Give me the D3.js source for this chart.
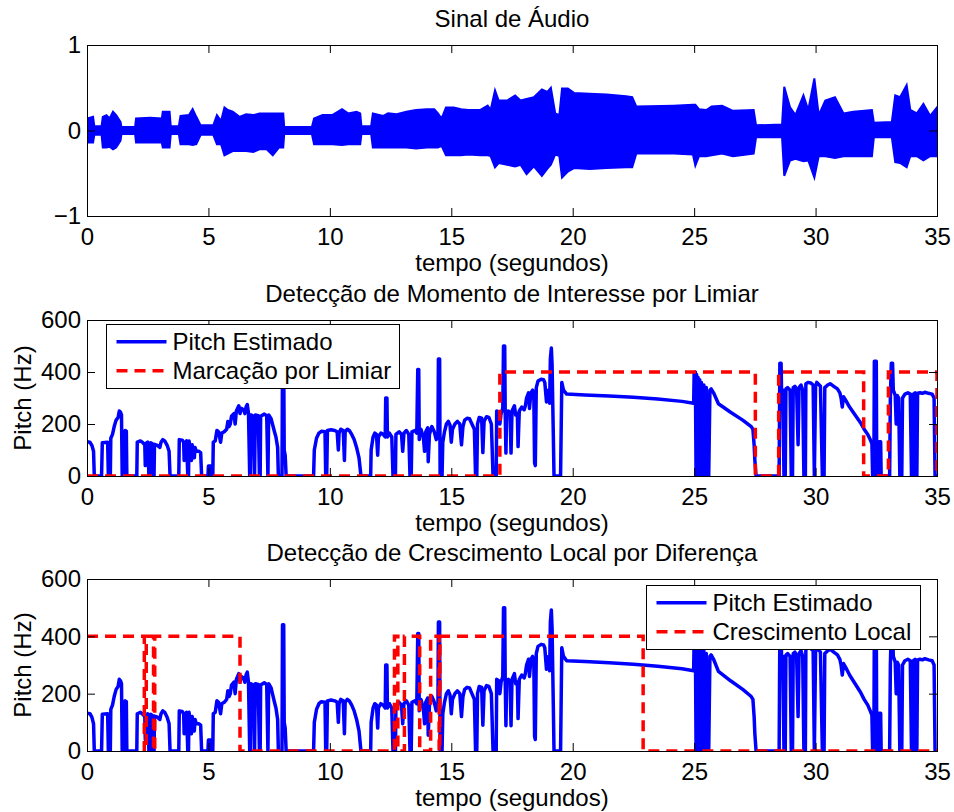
<!DOCTYPE html>
<html>
<head>
<meta charset="utf-8">
<script src="https://cdn.jsdelivr.net/npm/d3@7"></script>
<style>
  body { margin: 0; background: #fff; }
  svg { display: block; font-family: "Liberation Sans", Arial, Helvetica, sans-serif; }
  .tick text { font-size: 24px; fill: #000; }
  .tick line { stroke: #000; }
</style>
</head>
<body>
<div id="chart"></div>
<script>
// eixos e rótulos
const xTicks = [0, 5, 10, 15, 20, 25, 30, 35]
const audioTicks = [-1, 0, 1]
const pitchTicks = [0, 200, 400, 600]

// envelope do sinal de áudio (tempo, máximo, mínimo)
const audioT = [0, 0.25, 0.3, 0.6, 0.65, 0.8, 0.93, 1.07, 1.2, 1.38, 1.42, 1.98, 2.02, 2.6, 3.08, 3.12, 3.4, 3.45, 3.78, 3.85,
  4.2, 4.35, 4.5, 4.68, 5.2, 5.35, 5.52, 5.66, 5.8, 6.0, 6.28, 6.55, 6.85, 7.1, 7.4, 7.65, 7.9, 8.08, 8.12, 9.26,
  9.35, 9.7, 10.1, 10.5, 10.75, 11.1, 11.25, 11.3, 11.7, 11.77, 12.2, 12.4, 12.75, 13.15, 13.55, 14.0, 14.3, 14.45, 14.6, 14.78,
  15.1, 15.4, 15.7, 16.2, 16.5, 16.62, 16.8, 16.95, 17.3, 17.63, 17.85, 18.1, 18.4, 18.73, 18.95, 19.1, 19.28, 19.45, 19.56, 19.8,
  20.05, 20.7, 21.4, 22.2, 22.45, 22.62, 24.15, 24.95, 25.05, 25.2, 25.5, 25.72, 26.15, 26.6, 27.45, 27.55, 28.62, 28.71, 28.95, 29.17,
  29.5, 29.7, 29.95, 30.13, 30.4, 30.8, 31.15, 31.55, 32.32, 32.4, 33.14, 33.28, 33.48, 33.75, 33.9, 34.17, 34.44, 34.72, 35]
const audioHi = [0.14, 0.16, 0.05, 0.05, 0.16, 0.18, 0.14, 0.22, 0.18, 0.1, 0.04, 0.04, 0.14, 0.15, 0.14, 0.22, 0.22, 0.05, 0.05, 0.17,
  0.18, 0.25, 0.16, 0.06, 0.06, 0.18, 0.11, 0.27, 0.24, 0.22, 0.16, 0.19, 0.18, 0.2, 0.2, 0.2, 0.2, 0.2, 0.04, 0.04,
  0.14, 0.18, 0.18, 0.25, 0.2, 0.22, 0.2, 0.05, 0.05, 0.2, 0.17, 0.2, 0.19, 0.22, 0.24, 0.25, 0.25, 0.2, 0.14, 0.27,
  0.27, 0.25, 0.24, 0.24, 0.29, 0.24, 0.47, 0.35, 0.35, 0.41, 0.35, 0.37, 0.39, 0.48, 0.45, 0.5, 0.2, 0.18, 0.49, 0.49,
  0.44, 0.43, 0.42, 0.4, 0.39, 0.28, 0.29, 0.3, 0.3, 0.25, 0.24, 0.28, 0.29, 0.23, 0.24, 0.06, 0.07, 0.51, 0.27, 0.18,
  0.41, 0.24, 0.61, 0.18, 0.35, 0.39, 0.2, 0.22, 0.24, 0.09, 0.1, 0.41, 0.39, 0.53, 0.24, 0.2, 0.31, 0.17, 0.27]
const audioLo = [-0.14, -0.14, -0.05, -0.05, -0.2, -0.2, -0.19, -0.22, -0.2, -0.12, -0.04, -0.04, -0.14, -0.14, -0.14, -0.2, -0.2, -0.04, -0.04, -0.16,
  -0.16, -0.17, -0.16, -0.05, -0.05, -0.16, -0.16, -0.29, -0.27, -0.24, -0.24, -0.24, -0.25, -0.22, -0.22, -0.29, -0.2, -0.2, -0.04, -0.04,
  -0.16, -0.16, -0.16, -0.17, -0.16, -0.16, -0.16, -0.04, -0.04, -0.2, -0.2, -0.2, -0.2, -0.2, -0.21, -0.2, -0.2, -0.2, -0.18, -0.29,
  -0.29, -0.29, -0.28, -0.29, -0.29, -0.3, -0.43, -0.38, -0.4, -0.42, -0.4, -0.51, -0.42, -0.53, -0.45, -0.4, -0.28, -0.3, -0.55, -0.48,
  -0.44, -0.45, -0.44, -0.43, -0.43, -0.27, -0.27, -0.28, -0.41, -0.3, -0.3, -0.29, -0.27, -0.3, -0.27, -0.08, -0.08, -0.53, -0.35, -0.33,
  -0.36, -0.35, -0.55, -0.3, -0.3, -0.32, -0.3, -0.3, -0.3, -0.08, -0.08, -0.37, -0.38, -0.43, -0.3, -0.3, -0.35, -0.3, -0.3]

// pitch estimado (tempo em s, Hz)
const pitchT = [0, 0.12, 0.2, 0.27, 0.3, 0.6, 0.63, 0.85, 0.88, 0.96, 0.98, 1.05, 1.12, 1.2, 1.28, 1.33, 1.38, 1.42, 1.45, 1.55, 1.57, 1.62, 1.64,
  2.05, 2.07, 2.2, 2.3, 2.38, 2.4, 2.42, 2.5, 2.55, 2.6, 2.62, 2.68, 2.72, 2.76, 2.78, 2.9, 3.0, 3.05, 3.12, 3.2, 3.3, 3.38, 3.42,
  3.78, 3.8, 3.92, 3.98, 4.0, 4.05, 4.1, 4.15, 4.18, 4.2, 4.25, 4.3, 4.33, 4.38, 4.42, 4.45, 4.5, 4.6, 4.68, 4.72,
  4.98, 5.0, 5.1, 5.12,
  5.18, 5.2, 5.28, 5.35, 5.42, 5.5, 5.55, 5.65, 5.75, 5.8, 5.85, 5.9, 5.95, 6.05, 6.1, 6.15, 6.25, 6.3, 6.35, 6.45, 6.5, 6.55, 6.6, 6.65, 6.7,
  6.73, 6.75, 6.85, 6.9, 6.93, 7.05, 7.1, 7.13, 7.15, 7.3, 7.4, 7.45, 7.48, 7.58, 7.65, 7.72, 7.78, 7.85, 7.88, 8.03, 8.05, 8.1, 8.12, 8.16, 8.2,
  9.33, 9.36, 9.45, 9.55, 9.65, 9.8, 9.83, 9.87, 9.9, 10.05, 10.2, 10.3, 10.35, 10.38, 10.45, 10.55, 10.6, 10.63, 10.72, 10.8, 10.9, 11.0, 11.1, 11.2, 11.28,
  11.68, 11.7, 11.78, 11.85, 11.92, 11.97, 12.0, 12.1, 12.2, 12.28, 12.3, 12.35, 12.37, 12.45, 12.55, 12.6, 12.7, 12.72, 12.85, 12.95, 13.0, 13.05,
  13.15, 13.25, 13.3, 13.35, 13.38, 13.5, 13.58, 13.62, 13.66, 13.68, 13.75, 13.85, 13.9, 13.95, 14.03, 14.05, 14.1, 14.2, 14.3, 14.38, 14.45,
  14.47, 14.52, 14.54, 14.62, 14.65, 14.72, 14.8, 14.88, 14.95, 15.0, 15.05, 15.15, 15.25, 15.35, 15.42, 15.48, 15.55, 15.65, 15.75, 15.85,
  15.95, 16.0, 16.05, 16.08, 16.15, 16.25, 16.3, 16.35, 16.45, 16.55, 16.65, 16.72, 16.85, 16.87, 16.95, 17.0, 17.05, 17.12, 17.15, 17.2, 17.22,
  17.25, 17.28, 17.35, 17.42, 17.46, 17.5, 17.6, 17.65, 17.72, 17.75, 17.8, 17.9, 18.0, 18.05, 18.1, 18.18, 18.22, 18.28, 18.35, 18.4, 18.43,
  18.46, 18.5, 18.57, 18.7, 18.8, 18.85, 18.92, 19.0, 19.05, 19.08, 19.12, 19.15, 19.2, 19.23, 19.5, 19.55, 19.62, 19.75,
  20.5, 21.5, 22.5, 23.5, 24.5, 24.98, 25.0, 25.05, 25.08, 25.1, 25.13, 25.16, 25.2, 25.23, 25.27, 25.3, 25.35, 25.4, 25.45, 25.5, 25.55,
  25.6, 25.65, 25.7, 25.8, 26.0, 26.5, 27.0, 27.35, 27.42, 27.47, 27.5, 27.55,
  28.5, 28.53, 28.58, 28.6, 28.65, 28.7, 28.75, 28.78, 28.85, 28.95, 29.0, 29.05, 29.08, 29.15, 29.22, 29.28, 29.32, 29.4, 29.47, 29.52,
  29.58, 29.6, 29.7, 29.8, 29.9, 29.95, 30.0, 30.05, 30.1, 30.2, 30.28, 30.35, 30.38, 30.5, 30.6, 30.75, 30.9, 31.0, 31.05, 31.1, 31.15,
  31.25, 31.4, 31.55, 31.7, 31.85, 32.0, 32.15, 32.25, 32.32, 32.35, 32.4, 32.42, 32.5, 32.52, 32.6, 32.62, 32.68, 32.7,
  33.05, 33.08, 33.12, 33.17, 33.2, 33.28, 33.32, 33.36, 33.42, 33.47, 33.55, 33.58, 33.68, 33.8, 33.9, 33.95, 34.0, 34.03, 34.1, 34.12,
  34.17, 34.2, 34.3, 34.4, 34.5, 34.65, 34.8, 34.88, 34.92, 35]
const pitchHz = [132, 130, 118, 95, 0, 0, 128, 130, 0, 0, 145, 160, 190, 215, 225, 250, 245, 235, 0, 0, 175, 172, 0,
  0, 130, 135, 128, 120, 40, 125, 130, 0, 0, 128, 125, 0, 0, 122, 118, 110, 130, 140, 135, 118, 95, 0,
  0, 140, 138, 130, 60, 125, 135, 0, 0, 135, 110, 60, 120, 100, 70, 110, 95, 95, 90, 0,
  0, 38, 38, 0,
  0, 130, 135, 175, 170, 130, 165, 170, 180, 210, 190, 200, 230, 240, 200, 250, 270, 240, 260, 255, 240, 265, 275, 240, 0,
  0, 235, 230, 0, 235, 232, 0, 0, 230, 238, 232, 0, 235, 220, 195, 170, 150, 110, 0, 0, 440, 440, 100, 80, 0,
  0, 100, 145, 165, 172, 170, 0, 0, 175, 178, 175, 170, 100, 165, 180, 175, 60, 170, 180, 175, 160, 140, 110, 70, 0,
  0, 100, 150, 165, 160, 80, 150, 165, 160, 150, 300, 300, 150, 165, 150, 0, 0, 160, 170, 160, 95, 165,
  175, 160, 0, 0, 170, 175, 165, 410, 410, 140, 180, 150, 95, 170, 185, 55, 160, 190, 170, 140, 150,
  450, 450, 0, 0, 130, 170, 200, 210, 195, 130, 180, 200, 210, 200, 120, 190, 215, 222, 220, 200,
  180, 0, 0, 200, 225, 222, 90, 210, 228, 225, 200, 0, 0, 250, 245, 200, 240, 260, 500, 500, 250,
  88, 245, 250, 240, 88, 250, 270, 235, 240, 113, 250, 265, 255, 270, 300, 320, 260, 320, 330, 300, 50,
  40, 340, 365, 372, 370, 360, 285, 330, 280, 450, 492, 430, 165, 0, 0, 360, 330, 315,
  312, 308, 303, 296, 287, 280, 395, 400, 0, 390, 0, 380, 0, 370, 0, 360, 0, 350, 0, 340, 0,
  0, 330, 335, 320, 278, 245, 215, 190, 180, 120, 60, 0,
  0, 434, 434, 320, 330, 0, 0, 335, 340, 330, 0, 0, 340, 345, 330, 120, 340, 350, 330, 0,
  0, 355, 360, 358, 350, 0, 345, 360, 355, 345, 0, 0, 340, 350, 355, 345, 335, 320, 300, 265, 305,
  290, 265, 245, 225, 205, 180, 160, 140, 125, 0, 0, 441, 441, 0, 0, 132, 132, 0,
  0, 300, 434, 434, 330, 310, 200, 310, 300, 0, 0, 300, 315, 320, 315, 0, 0, 315, 320, 0,
  0, 318, 320, 318, 322, 318, 315, 300, 0, 0]

// marcação por limiar (degraus: valor vale a partir do instante)
const limiarT = [0, 17.0, 27.52, 28.48, 31.98, 33.0, 35]
const limiarHz = [0, 400, 0, 400, 0, 400, 0]

// crescimento local por diferença
const crescT = [0, 2.36, 2.44, 2.74, 2.79, 6.3, 12.66, 12.8, 13.07, 13.7, 14.15, 14.5, 14.53, 22.9, 35]
const crescHz = [400, 0, 400, 0, 400, 0, 400, 0, 400, 0, 400, 0, 400, 0, 0]

const W = 954
const H = 812
const plotLeft = 87
const plotRight = 937
const fontSize = 24
const blue = '#0000ff'
const red = '#ff0000'
const lineW = 3.5

const svg = d3.select('#chart').append('svg')
  .attr('width', W)
  .attr('height', H)
  .attr('viewBox', [0, 0, W, H])

svg.append('rect').attr('width', W).attr('height', H).attr('fill', '#fff')

const x = d3.scaleLinear().domain([0, 35]).range([plotLeft, plotRight])

// desenha caixa, ticks internos (estilo MATLAB) e textos de um painel
function drawPanel (cfg) {
  const y = d3.scaleLinear().domain(cfg.yDomain).range([cfg.bottom, cfg.top])
  const g = svg.append('g')

  const clipId = 'clip' + cfg.id
  svg.append('clipPath').attr('id', clipId)
    .append('rect')
    .attr('x', plotLeft).attr('y', cfg.top)
    .attr('width', plotRight - plotLeft).attr('height', cfg.bottom - cfg.top)

  const data = g.append('g').attr('clip-path', `url(#${clipId})`)
  cfg.drawData(data, y)

  const fmt = d => d < 0 ? '\u2212' + Math.abs(d) : d

  g.append('g')
    .attr('transform', `translate(0,${cfg.bottom})`)
    .call(d3.axisBottom(x).tickValues(xTicks).tickSize(-8).tickPadding(12).tickFormat(fmt))
    .call(a => a.select('.domain').remove())
  g.append('g')
    .attr('transform', `translate(0,${cfg.top})`)
    .call(d3.axisTop(x).tickValues(xTicks).tickSize(-8).tickFormat(''))
    .call(a => a.select('.domain').remove())
  g.append('g')
    .attr('transform', `translate(${plotLeft},0)`)
    .call(d3.axisLeft(y).tickValues(cfg.yTicks).tickSize(-8).tickPadding(6).tickFormat(fmt))
    .call(a => a.select('.domain').remove())
  g.append('g')
    .attr('transform', `translate(${plotRight},0)`)
    .call(d3.axisRight(y).tickValues(cfg.yTicks).tickSize(-8).tickFormat(''))
    .call(a => a.select('.domain').remove())

  g.selectAll('.tick text').attr('font-size', fontSize).attr('font-family', null)

  // caixa dos eixos
  g.append('rect')
    .attr('x', plotLeft + 0.5).attr('y', cfg.top + 0.5)
    .attr('width', plotRight - plotLeft).attr('height', cfg.bottom - cfg.top)
    .attr('fill', 'none').attr('stroke', '#000').attr('stroke-width', 1)

  g.append('text')
    .attr('x', (plotLeft + plotRight) / 2)
    .attr('y', cfg.top - 18.5)
    .attr('text-anchor', 'middle')
    .attr('font-size', fontSize)
    .text(cfg.title)

  g.append('text')
    .attr('x', (plotLeft + plotRight) / 2)
    .attr('y', cfg.bottom + 55)
    .attr('text-anchor', 'middle')
    .attr('font-size', fontSize)
    .text('tempo (segundos)')

  if (cfg.ylabel) {
    g.append('text')
      .attr('transform', `translate(31,${(cfg.top + cfg.bottom) / 2}) rotate(-90)`)
      .attr('text-anchor', 'middle')
      .attr('font-size', fontSize)
      .text(cfg.ylabel)
  }

  if (cfg.legend) drawLegend(cfg.legend)
}

function drawLegend (lg) {
  const g = svg.append('g').attr('transform', `translate(${lg.x},${lg.y})`)
  g.append('rect')
    .attr('x', 0.5).attr('y', 0.5)
    .attr('width', lg.w).attr('height', lg.h)
    .attr('fill', '#fff').attr('stroke', '#000')
  lg.items.forEach((it, i) => {
    const cy = 17.7 + i * 29
    g.append('line')
      .attr('x1', 10.5).attr('x2', 60.5)
      .attr('y1', cy).attr('y2', cy)
      .attr('stroke', it.color).attr('stroke-width', lineW)
      .attr('stroke-dasharray', it.dash || null)
    g.append('text')
      .attr('x', 66.5).attr('y', cy + 8.5)
      .attr('font-size', fontSize)
      .text(it.label)
  })
}

const audioData = audioT.map((t, i) => ({ t, hi: audioHi[i], lo: audioLo[i] }))
const pitchData = pitchT.map((t, i) => ({ t, v: pitchHz[i] }))
const limiarData = limiarT.map((t, i) => ({ t, v: limiarHz[i] }))
const crescData = crescT.map((t, i) => ({ t, v: crescHz[i] }))

const dashRed = '11,7'

function pitchLine (g, y) {
  g.append('path')
    .datum(pitchData)
    .attr('d', d3.line().x(d => x(d.t)).y(d => y(d.v)))
    .attr('fill', 'none')
    .attr('stroke', blue)
    .attr('stroke-width', lineW)
    .attr('stroke-linejoin', 'round')
}

function stepLine (g, y, data) {
  g.append('path')
    .datum(data)
    .attr('d', d3.line().curve(d3.curveStepAfter).x(d => x(d.t)).y(d => y(d.v)))
    .attr('fill', 'none')
    .attr('stroke', red)
    .attr('stroke-width', lineW)
    .attr('stroke-dasharray', dashRed)
}

drawPanel({
  id: 1,
  top: 45,
  bottom: 216,
  yDomain: [-1, 1],
  yTicks: audioTicks,
  title: 'Sinal de Áudio',
  drawData: (g, y) => {
    g.append('path')
      .datum(audioData)
      .attr('d', d3.area().x(d => x(d.t)).y0(d => y(d.lo)).y1(d => y(d.hi)))
      .attr('fill', blue)
      .attr('stroke', blue)
      .attr('stroke-width', 2)
  }
})

drawPanel({
  id: 2,
  top: 320,
  bottom: 476,
  yDomain: [0, 600],
  yTicks: pitchTicks,
  title: 'Detecção de Momento de Interesse por Limiar',
  ylabel: 'Pitch (Hz)',
  drawData: (g, y) => {
    pitchLine(g, y)
    stepLine(g, y, limiarData)
  },
  legend: {
    x: 106, y: 324, w: 293, h: 64,
    items: [
      { label: 'Pitch Estimado', color: blue },
      { label: 'Marcação por Limiar', color: red, dash: dashRed }
    ]
  }
})

drawPanel({
  id: 3,
  top: 579,
  bottom: 751,
  yDomain: [0, 600],
  yTicks: pitchTicks,
  title: 'Detecção de Crescimento Local por Diferença',
  ylabel: 'Pitch (Hz)',
  drawData: (g, y) => {
    pitchLine(g, y)
    stepLine(g, y, crescData)
  },
  legend: {
    x: 646, y: 585, w: 274, h: 64,
    items: [
      { label: 'Pitch Estimado', color: blue },
      { label: 'Crescimento Local', color: red, dash: dashRed }
    ]
  }
})
</script>
</body>
</html>
